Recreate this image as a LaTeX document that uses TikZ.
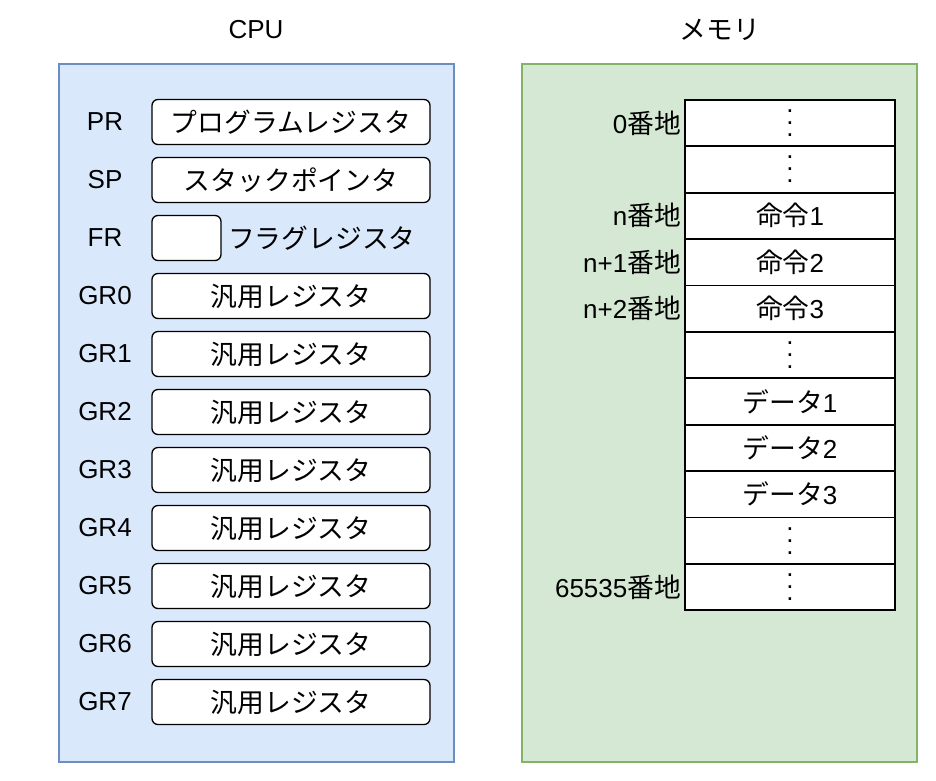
\documentclass[tikz,border=0pt]{standalone}
\usepackage{fontspec}
\setmainfont{Liberation Sans}
\newfontfamily\jp[Scale=1.03]{Noto Sans CJK JP}
\usetikzlibrary{positioning}

\definecolor{cpufill}{HTML}{DAE8FC}
\definecolor{cpuline}{HTML}{6C8EBF}
\definecolor{memfill}{HTML}{D5E8D4}
\definecolor{memline}{HTML}{82B366}

\newcommand\vdotsx{\vbox{\baselineskip=12pt\lineskiplimit=0pt\hbox{.}\hbox{.}\hbox{.}}}

\tikzset{
  unitbox/.style={draw, line width=1.5pt, minimum width=395pt, minimum height=698pt},
  reg/.style={draw, fill=white, rounded corners=6pt, line width=1.3pt,
              minimum width=278pt, minimum height=45pt, inner sep=0pt},
  cell/.style={draw, fill=white, line width=1.8pt,
               minimum width=210pt, minimum height=46.4pt, inner sep=0pt},
  addr/.style={anchor=east, inner sep=3pt},
}

\begin{document}
\begin{tikzpicture}[x=1pt,y=-1pt,font=\fontsize{26}{30}\selectfont]
\useasboundingbox (0,0) rectangle (936,780);

%CPU
\node[unitbox, fill=cpufill, draw=cpuline] (cpu) at (256.5,413) {};
\node (cputitle) at (256,30) {CPU};

  %Program register / stack pointer
  \node[reg] (pr) at (291,122) {\jp プログラムレジスタ};
  \node (prlabel) at (105,122) {PR};
  \node[reg] (sp) at (291,180) {\jp スタックポインタ};
  \node (splabel) at (105,180) {SP};

  %Flag register
  \node[reg, minimum width=69pt] (fr) at (186.5,238) {};
  \node (frlabel) at (105,238) {FR};
  \node[right=3pt of fr] (frtext) {\jp フラグレジスタ};

  %General registers
  \foreach \i in {0,...,7}{
    \node[reg] (gr\i) at (291,{296+58*\i}) {\jp 汎用レジスタ};
    \node (gr\i label) at (105,{296+58*\i}) {GR\i};
  }

%Memory
\node[unitbox, fill=memfill, draw=memline] (mem) at (719.5,413) {};
\node (memtitle) at (720,30) {\jp メモリ};

  \foreach \txt [count=\i from 0] in {\vdotsx, \vdotsx, {\jp 命令}1, {\jp 命令}2, {\jp 命令}3,
      \vdotsx, {\jp データ}1, {\jp データ}2, {\jp データ}3, \vdotsx, \vdotsx}{
    \node[cell] (m\i) at (790,{123+46.4*\i}) {\txt};
  }

  %Addresses
  \node[addr] (a0) at (m0.west) {0{\jp 番地}};
  \node[addr] (an) at (m2.west) {n{\jp 番地}};
  \node[addr] (an1) at (m3.west) {n+1{\jp 番地}};
  \node[addr] (an2) at (m4.west) {n+2{\jp 番地}};
  \node[addr] (alast) at (m10.west) {65535{\jp 番地}};
\end{tikzpicture}
\end{document}
